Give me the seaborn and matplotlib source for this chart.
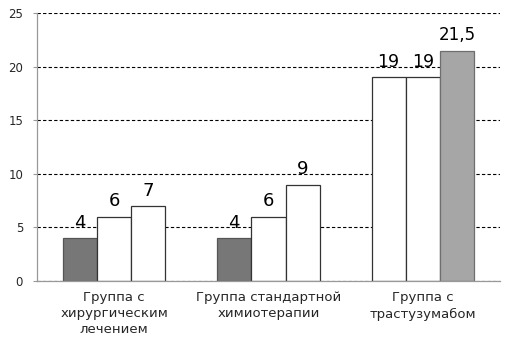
import matplotlib
matplotlib.use("Agg")
import matplotlib.pyplot as plt
import seaborn as sns
import pandas as pd

categories = ["Группа с\nхирургическим\nлечением", "Группа стандартной\nхимиотерапии", "Группа с\nтрастузумабом"]
series_names = ["Ряд 1", "Ряд 2", "Ряд 3"]
series1 = [4, 4, 19]
series2 = [6, 6, 19]
series3 = [7, 9, 21.5]
value_labels = [["4", "4", "19"], ["6", "6", "19"], ["7", "9", "21,5"]]
y_ticks = [0, 5, 10, 15, 20, 25]

rows = []
for name, vals in zip(series_names, [series1, series2, series3]):
    for c, v in zip(categories, vals):
        rows.append({"cat": c, "series": name, "value": v})
df = pd.DataFrame(rows)

sns.set_theme(style="white")
plt.rcParams["font.family"] = ["DejaVu Sans"]

fig = plt.figure(figsize=(5.16, 3.43), dpi=100)
ax = fig.add_axes([37/516, 1-281/343, (500-37)/516, (281-13)/343])

sns.barplot(data=df, x="cat", y="value", hue="series", order=categories,
            hue_order=series_names, palette=["white"]*3, width=0.665,
            edgecolor="#333333", linewidth=0.9, legend=False, ax=ax)

face = [["#777777", "#777777", "white"],
        ["white", "white", "white"],
        ["white", "white", "#a6a6a6"]]
edge = [["#555555", "#555555", "#333333"],
        ["#333333", "#333333", "#333333"],
        ["#333333", "#333333", "#6e6e6e"]]
sizes = [[13, 13, 12.5], [13, 13, 12.5], [13, 13, 12]]
for i, cont in enumerate(ax.containers):
    for j, p in enumerate(cont.patches):
        p.set_facecolor(face[i][j])
        p.set_edgecolor(edge[i][j])
        ax.annotate(value_labels[i][j], (p.get_x() + p.get_width()/2, p.get_height()),
                    xytext=(0, 4.5), textcoords="offset points",
                    ha="center", va="bottom", fontsize=sizes[i][j], color="black")

ax.set_xlim(-0.5, 2.5)
ax.set_ylim(0, 25)
ax.set_yticks(y_ticks)
ax.set_yticklabels([str(t) for t in y_ticks], fontsize=8.5)
ax.set_xticks(range(len(categories)))
ax.set_xticklabels(categories, fontsize=9.5, linespacing=1.3)
ax.set_xticks([-0.5, 0.5, 1.5, 2.5], minor=True)
ax.tick_params(axis="x", which="major", length=0, pad=7.5)
ax.tick_params(axis="x", which="minor", length=4, color="#999999", width=0.8)
ax.tick_params(axis="y", length=3, color="#999999", width=0.8, pad=7, left=True)
ax.set_xlabel("")
ax.set_ylabel("")

ax.set_axisbelow(True)
ax.yaxis.grid(True, linestyle=(0, (3, 2)), color="black", linewidth=0.8)
ax.xaxis.grid(False)
for s in ["top", "right"]:
    ax.spines[s].set_visible(False)
for s in ["left", "bottom"]:
    ax.spines[s].set_color("#999999")
    ax.spines[s].set_linewidth(0.9)

fig.savefig("out.png", dpi=100)
